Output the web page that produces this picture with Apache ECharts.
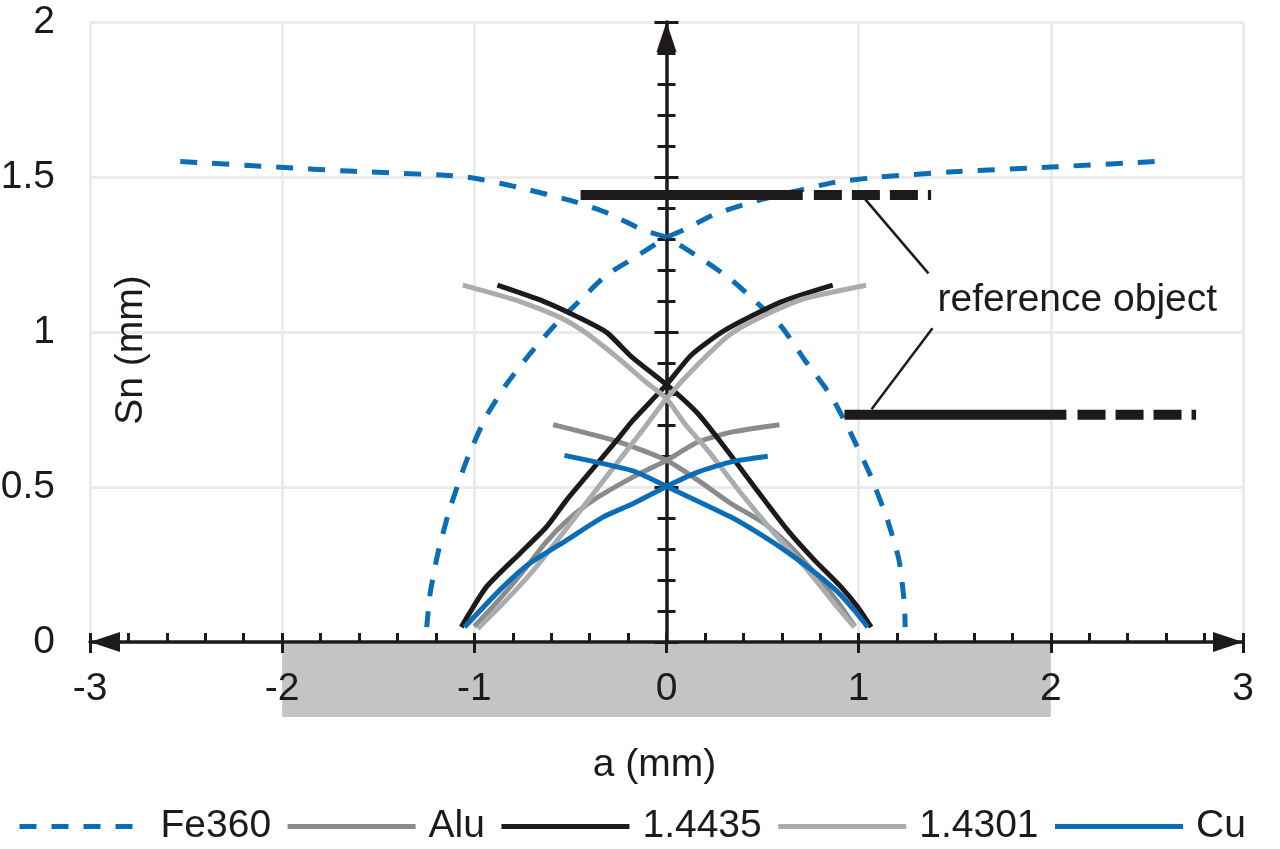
<!DOCTYPE html>
<html><head><meta charset="utf-8">
<script src="https://cdn.jsdelivr.net/npm/echarts@6/dist/echarts.min.js"></script>
<style>html,body{margin:0;padding:0;background:#fff}#c{width:1280px;height:849px}</style>
</head><body><div id="c"></div>
<script>
const FONT = 'Liberation Sans, Arial, Helvetica, sans-serif';
const TXT = '#1e1a1b';
const BLUE = '#0b6db6';
const FS = 39;

// axis ranges
const xRange = [-3, 3];
const yRange = [0, 2];
const bandRange = [-2, 2];

// Fe360 (dashed blue)
const fe360A = [[-2.53,1.550],[-2.03,1.532],[-1.65,1.519],[-1.13,1.505],[-1.0,1.496],[-0.78,1.468],[-0.47,1.419],[-0.30,1.382],[-0.12,1.328],[0,1.305],[0.19,1.233],[0.34,1.167],[0.475,1.092],[0.60,1.016],[0.72,0.909],[0.86,0.790],[0.96,0.672],[1.065,0.532],[1.15,0.393],[1.21,0.264],[1.238,0.124],[1.242,0.048]];
const fe360B = [[2.54,1.550],[2.0,1.532],[1.47,1.516],[1.11,1.500],[0.95,1.489],[0.865,1.482],[0.69,1.457],[0.48,1.425],[0.26,1.382],[0.085,1.328],[0,1.305],[-0.19,1.231],[-0.31,1.185],[-0.45,1.102],[-0.59,1.016],[-0.71,0.930],[-0.83,0.834],[-0.94,0.726],[-1.04,0.586],[-1.13,0.425],[-1.19,0.285],[-1.23,0.156],[-1.248,0.048]];
// Alu (mid gray)
const aluA = [[-0.59,0.701],[-0.245,0.645],[0,0.586],[0.163,0.522],[0.337,0.446],[0.51,0.382],[0.65,0.305],[0.78,0.215],[0.89,0.13],[0.98,0.05]];
const aluB = [[-1.0,0.05],[-0.88,0.13],[-0.75,0.225],[-0.63,0.32],[-0.52,0.39],[-0.383,0.457],[-0.175,0.532],[0,0.586],[0.163,0.645],[0.337,0.677],[0.588,0.701]];
// 1.4435 (black)
const b4435A = [[-0.88,1.151],[-0.64,1.099],[-0.46,1.048],[-0.31,0.998],[-0.18,0.919],[0,0.830],[0.163,0.737],[0.302,0.629],[0.458,0.500],[0.631,0.360],[0.77,0.264],[0.909,0.177],[0.995,0.113],[1.065,0.048]];
const b4435B = [[-1.068,0.048],[-0.938,0.177],[-0.764,0.285],[-0.625,0.371],[-0.521,0.457],[-0.383,0.559],[-0.245,0.661],[-0.175,0.715],[0,0.830],[0.128,0.925],[0.302,1.005],[0.597,1.097],[0.865,1.151]];
// 1.4301 (light gray)
const g4301A = [[-1.06,1.151],[-0.765,1.099],[-0.557,1.048],[-0.43,1.002],[-0.26,0.92],[-0.11,0.84],[0,0.785],[0.094,0.705],[0.215,0.618],[0.389,0.479],[0.562,0.35],[0.735,0.231],[0.874,0.124],[0.978,0.048]];
const g4301B = [[-0.982,0.043],[-0.834,0.135],[-0.678,0.242],[-0.487,0.393],[-0.314,0.532],[-0.139,0.672],[0,0.785],[0.163,0.895],[0.337,0.995],[0.527,1.059],[0.718,1.108],[1.039,1.151]];
// Cu (solid blue)
const cuA = [[-0.531,0.602],[-0.175,0.552],[0,0.502],[0.335,0.403],[0.51,0.339],[0.64,0.285],[0.78,0.22],[0.90,0.156],[0.98,0.10],[1.047,0.048]];
const cuB = [[-1.051,0.048],[-0.852,0.177],[-0.713,0.253],[-0.521,0.328],[-0.331,0.403],[-0.175,0.446],[0,0.502],[0.163,0.548],[0.337,0.581],[0.527,0.599]];

// reference object bars: [y, solidStart, solidEnd, dashStart, dashEnd]
const refUpper = [1.442, -0.447, 0.709, 0.767, 1.377];
const refLower = [0.733, 0.926, 2.081, 2.139, 2.756];
// leader lines
const leader1 = [[1.03,1.431],[1.363,1.189]];
const leader2 = [[1.384,1.012],[1.067,0.751]];
const refLabelPos = [1.41, 1.102];
const refLabelText = 'reference object';
const legendNames = ['Fe360','Alu','1.4435','1.4301','Cu'];

function curve(name, data, color, dash) {
  return {type:'line', name, data, symbol:'none', showSymbol:false, silent:true, smooth:0.2,
    lineStyle:{color, width:5, type: dash || 'solid', cap:'butt', join:'round'},
    itemStyle:{color}, emphasis:{disabled:true}};
}
function refBar(r) {
  return [
    {type:'line', name:'ref', data:[[r[1],r[0]],[r[2],r[0]]], symbol:'none', silent:true,
      lineStyle:{color:TXT, width:10, cap:'butt'}},
    {type:'line', name:'ref', data:[[r[3],r[0]],[r[4],r[0]]], symbol:'none', silent:true,
      lineStyle:{color:TXT, width:10, cap:'butt', type:[28,10]}}
  ];
}
function leader(d) {
  return {type:'line', name:'ref', data:d, symbol:'none', silent:true, lineStyle:{color:TXT, width:2.5}};
}

const tickStyle = {color:TXT, width:3};
const chart = echarts.init(document.getElementById('c'), null, {renderer:'canvas'});
const option = {
  animation:false,
  backgroundColor:'#fff',
  textStyle:{fontFamily:FONT},
  grid:{left:90, right:37, top:22, bottom:207, containLabel:false, outerBoundsMode:'none'},
  legend:{data:legendNames, left:12, top:802, width:1268, itemWidth:128, itemHeight:14, itemGap:14,
    selectedMode:false, itemStyle:{opacity:0}, lineStyle:{width:5},
    textStyle:{fontSize:FS, color:TXT, fontFamily:FONT, padding:[0,0,0,8]}},
  xAxis:[
    {type:'value', min:xRange[0], max:xRange[1], interval:1, position:'bottom',
      name:'a (mm)', nameLocation:'middle', nameGap:104,
      nameTextStyle:{fontSize:FS, color:TXT, fontFamily:FONT, padding:[0,24,0,0]},
      axisLine:{show:true, onZero:false, symbol:['triangle','triangle'], symbolSize:[20,30], symbolOffset:[15,-15], lineStyle:{color:TXT, width:3.5}},
      axisTick:{show:true, inside:true, length:9, lineStyle:tickStyle},
      minorTick:{show:true, splitNumber:5, length:9, lineStyle:tickStyle},
      axisLabel:{fontSize:FS, color:TXT, margin:28, fontFamily:FONT},
      splitLine:{show:true, lineStyle:{color:'#ebebeb', width:3}}},
    {type:'value', min:xRange[0], max:xRange[1], interval:1, position:'bottom',
      axisLine:{show:false, onZero:false},
      axisTick:{show:true, inside:false, length:11, lineStyle:tickStyle},
      axisLabel:{show:false}, splitLine:{show:false}}
  ],
  yAxis:[
    {type:'value', min:yRange[0], max:yRange[1], interval:0.5, position:'left',
      axisLine:{show:false, onZero:false}, axisTick:{show:false},
      axisLabel:{fontSize:FS, color:TXT, margin:35, fontFamily:FONT},
      splitLine:{show:true, lineStyle:{color:'#ebebeb', width:3}}},
    {type:'value', min:yRange[0], max:yRange[1], interval:0.5, position:'left',
      axisLine:{show:true, onZero:true, onZeroAxisIndex:0, symbol:['none','triangle'], symbolSize:[20,30], symbolOffset:[0,-15], lineStyle:{color:TXT, width:3.5}},
      axisTick:{show:true, inside:true, length:12, lineStyle:tickStyle},
      minorTick:{show:true, splitNumber:5, length:9, lineStyle:tickStyle},
      axisLabel:{show:false}, splitLine:{show:false}},
    {type:'value', min:yRange[0], max:yRange[1], interval:0.5, position:'left',
      axisLine:{show:false, onZero:true, onZeroAxisIndex:0},
      axisTick:{show:true, inside:false, length:12, lineStyle:tickStyle},
      minorTick:{show:true, splitNumber:5, length:9, lineStyle:tickStyle},
      axisLabel:{show:false}, splitLine:{show:false}}
  ],
  series:[
    curve('Fe360', fe360A, BLUE, [17,15]),
    curve('Fe360', fe360B, BLUE, [17,15]),
    curve('Alu', aluA, '#8a8b8d'),
    curve('Alu', aluB, '#8a8b8d'),
    curve('1.4435', b4435A, TXT),
    curve('1.4435', b4435B, TXT),
    curve('1.4301', g4301A, '#abacae'),
    curve('1.4301', g4301B, '#abacae'),
    curve('Cu', cuA, BLUE),
    curve('Cu', cuB, BLUE),
    ...refBar(refUpper),
    ...refBar(refLower),
    leader(leader1),
    leader(leader2)
  ],
  graphic:[]
};
chart.setOption(option);

const p1 = chart.convertToPixel({xAxisIndex:0, yAxisIndex:0}, [bandRange[0], yRange[0]]);
const p2 = chart.convertToPixel({xAxisIndex:0, yAxisIndex:0}, [bandRange[1], yRange[0]]);
const gl = chart.convertToPixel({xAxisIndex:0, yAxisIndex:0}, [xRange[0], 1]);
const lp = chart.convertToPixel({xAxisIndex:0, yAxisIndex:0}, refLabelPos);
const txtStyle = (t, al) => ({text:t, font:FS+'px '+FONT, fill:TXT, align:al, verticalAlign:'middle', textAlign:al, textVerticalAlign:'middle'});
chart.setOption({graphic:[
  {type:'rect', z:-10, silent:true, shape:{x:p1[0], y:p1[1], width:p2[0]-p1[0], height:75}, style:{fill:'#c3c4c4'}},
  {type:'text', z:10, silent:true, x:gl[0]+41, y:350, rotation:Math.PI/2, style:txtStyle('Sn (mm)','center')},
  {type:'text', z:10, silent:true, x:lp[0], y:lp[1], style:txtStyle(refLabelText,'left')}
]});
</script></body></html>
